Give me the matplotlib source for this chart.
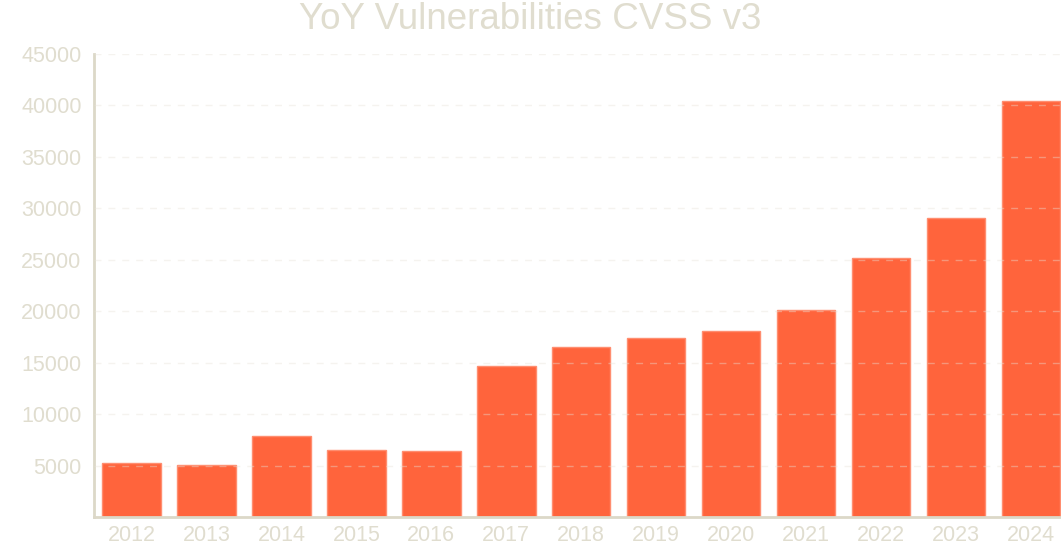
import matplotlib
matplotlib.use("Agg")
import matplotlib.pyplot as plt
import numpy as np

# ── Dati ────────────────────────────────────────────────────
YEARS  = ["2012", "2013", "2014", "2015", "2016", "2017", "2018",
          "2019", "2020", "2021", "2022", "2023", "2024"]
COUNTS = [5200, 5100, 7830, 6470, 6390, 14650, 16530,
          17380, 18090, 20110, 25140, 29040, 40420]
Y_TICKS = [5000, 10000, 15000, 20000, 25000, 30000, 35000, 40000, 45000]
TITLE = "YoY Vulnerabilities CVSS v3"

# ── Stile ───────────────────────────────────────────────────
BAR_COLOR  = "#FF643C"
EDGE_COLOR = "#FF8E70"
TEXT_COLOR = "#E0DDCF"
AXIS_COLOR = "#DCD8C8"
GRID_COLOR = "#E6E3D8"

plt.rcParams["font.family"] = ["Liberation Sans", "DejaVu Sans"]

W, H = 1061, 546
fig = plt.figure(figsize=(W / 100, H / 100), dpi=100)
ax = fig.add_axes([94 / W, 29 / H, (W - 94) / W, (517 - 54) / H])

x = np.arange(len(YEARS))
ax.bar(x, COUNTS, width=0.78, color=BAR_COLOR, edgecolor=EDGE_COLOR,
       linewidth=1, zorder=2)

ax.set_xlim(-0.5, len(YEARS) - 1 + 0.4)
ax.set_ylim(0, 45000)
ax.set_xticks(x)
ax.set_xticklabels(YEARS)
ax.set_yticks(Y_TICKS)
ax.set_yticklabels([str(t) for t in Y_TICKS])

ax.tick_params(axis="both", length=0, labelsize=15.5, colors=TEXT_COLOR)
ax.tick_params(axis="y", pad=9)
ax.tick_params(axis="x", pad=6)

# griglia sopra le barre ma molto tenue
ax.yaxis.grid(True, linestyle=(0, (5, 5)), color=GRID_COLOR, linewidth=1,
              alpha=0.4, zorder=3)
ax.set_axisbelow(False)

for side in ("top", "right"):
    ax.spines[side].set_visible(False)
for side in ("left", "bottom"):
    ax.spines[side].set_color(AXIS_COLOR)
    ax.spines[side].set_linewidth(2)

fig.text(0.5, 1 - 29 / H, TITLE, ha="center", va="baseline",
         fontsize=26.5, color=TEXT_COLOR)

fig.savefig("out.png", dpi=100)
